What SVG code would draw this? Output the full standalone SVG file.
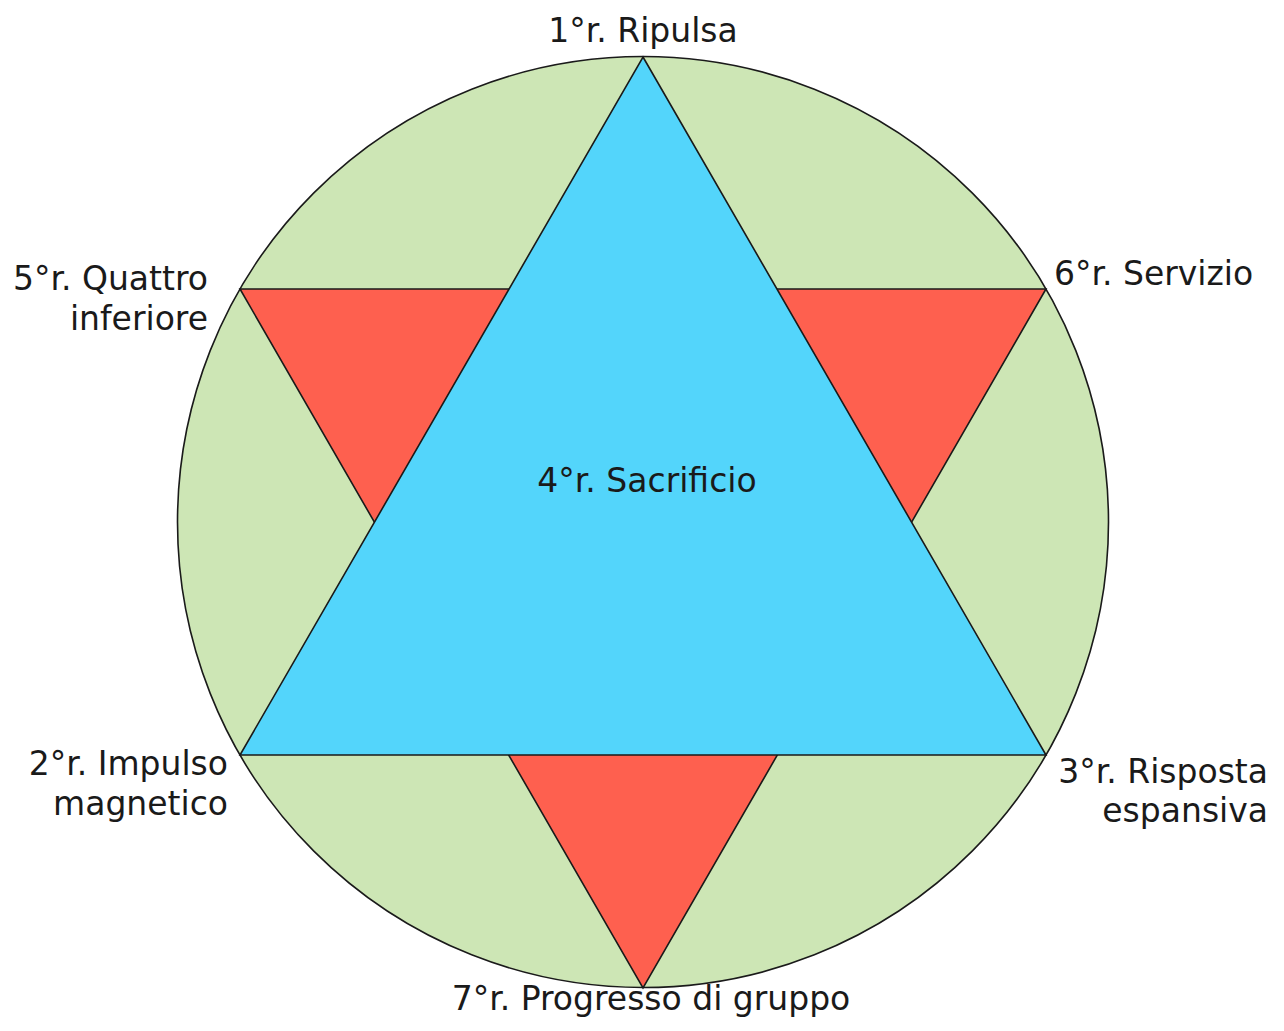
<svg xmlns="http://www.w3.org/2000/svg" width="1284" height="1031" viewBox="0 0 1284 1031">
<style>
.s{stroke:#1a1a1a;stroke-width:1.6;stroke-linejoin:miter}
text{font-family:"DejaVu Sans","Liberation Sans",sans-serif;font-size:33px;fill:#1a1a1a}
.r{text-anchor:end}
.m{text-anchor:middle}
</style>
<rect width="1284" height="1031" fill="#ffffff"/>
<g id="circle"><circle class="s" cx="643" cy="522" r="465.5" fill="#cde6b5"/></g>
<g id="down-triangle"><polygon class="s" points="240,289 1046,289 643,988" fill="#fe604f"/></g>
<g id="up-triangle"><polygon class="s" points="643,57 1046,755 240,755" fill="#53d5fb"/></g>
<g id="connectors"></g>
<g id="labels">
<text class="m" x="643" y="42">1°r. Ripulsa</text>
<text class="r" x="208" y="290">5°r. Quattro</text>
<text class="r" x="208" y="330">inferiore</text>
<text x="1054" y="285">6°r. Servizio</text>
<text class="m" x="647" y="492">4°r. Sacrificio</text>
<text class="r" x="228" y="775">2°r. Impulso</text>
<text class="r" x="228" y="815">magnetico</text>
<text class="r" x="1268" y="783">3°r. Risposta</text>
<text class="r" x="1268" y="822">espansiva</text>
<text class="m" x="651" y="1010">7°r. Progresso di gruppo</text>
</g>
</svg>
